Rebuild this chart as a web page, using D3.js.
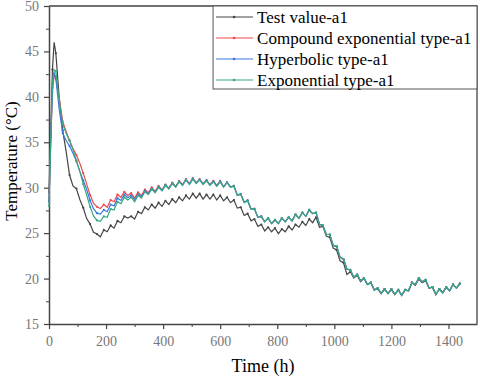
<!DOCTYPE html>
<html>
<head>
<meta charset="utf-8">
<script src="https://cdn.jsdelivr.net/npm/d3@7"></script>
<style>
  body { margin: 0; background: #fff; }
  text { font-family: "Liberation Serif", "Times New Roman", serif; }
</style>
</head>
<body>
<div id="chart"></div>
<script>
// time points (h)
var hours = [0, 6, 12, 18, 24, 36, 48, 60, 72, 84, 96, 108, 120, 132, 144, 156, 168, 180,
  192, 204, 216, 228, 240, 252, 264, 276, 288, 300, 312, 324, 336, 348, 360, 372, 384, 396,
  408, 420, 432, 444, 456, 468, 480, 492, 504, 516, 528, 540, 552, 564, 576, 588, 600, 612,
  624, 636, 648, 660, 672, 684, 696, 708, 720, 732, 744, 756, 768, 780, 792, 804, 816, 828,
  840, 852, 864, 876, 888, 900, 912, 924, 936, 948, 960, 972, 984, 996, 1008, 1020, 1032, 1044,
  1056, 1068, 1080, 1092, 1104, 1116, 1128, 1140, 1152, 1164, 1176, 1188, 1200, 1212, 1224, 1236,
  1248, 1260, 1272, 1284, 1296, 1308, 1320, 1332, 1344, 1356, 1368, 1380, 1392, 1404, 1416, 1428, 1440];

var testValue = [29.5, 36.0, 43.0, 46.0, 44.8, 39.8, 36.3, 34.0, 31.4, 30.2, 29.9, 28.7, 27.8, 26.6, 26.0, 25.1, 24.9, 24.6,
  25.35, 25.15, 25.85, 25.55, 26.35, 26.15, 26.85, 26.65, 26.85, 26.55, 27.35, 27.15, 27.85, 27.55, 28.15, 27.75, 28.35, 27.95,
  28.55, 28.15, 28.75, 28.35, 28.95, 28.55, 29.15, 28.75, 29.35, 28.85, 29.35, 28.75, 29.25, 28.75, 29.25, 28.65, 29.15, 28.55,
  28.95, 28.35, 28.65, 27.75, 27.85, 26.95, 27.15, 26.35, 26.55, 25.75, 25.95, 25.25, 25.65, 25.15, 25.55, 24.95, 25.45, 25.15,
  25.75, 25.35, 25.95, 25.65, 26.25, 25.85, 26.55, 26.15, 26.75, 25.65, 25.75, 24.65, 24.55, 23.35, 23.15, 21.95, 21.75, 20.45,
  20.75, 20.05, 20.35, 19.65, 20.05, 19.35, 19.55, 18.75, 18.85, 18.35, 18.85, 18.35, 18.75, 18.25, 18.75, 18.15,
  18.75, 18.65, 19.55, 19.25, 19.95, 19.55, 19.75, 18.95, 19.05, 18.25, 18.85, 18.45, 19.05, 18.65, 19.35, 18.95, 19.45];

var compoundExp = [28.5, 35.0, 40.5, 42.5, 42.0, 39.8, 37.3, 36.2, 35.2, 34.3, 33.6, 32.7, 31.6, 30.4, 29.2, 28.3, 27.9, 27.7,
  28.15, 27.85, 28.65, 28.45, 29.25, 28.95, 29.55, 29.15, 29.4, 28.85, 29.5, 29.15, 29.8, 29.45, 30.05, 29.6, 30.2, 29.75,
  30.35, 29.95, 30.55, 30.15, 30.75, 30.35, 30.95, 30.45, 31.05, 30.55, 30.95, 30.45, 30.85, 30.35, 30.75, 30.25, 30.75, 30.1,
  30.6, 30.1, 30.2, 29.2, 29.3, 28.4, 28.6, 27.7, 27.7, 26.75, 26.85, 26.25, 26.65, 26.05, 26.45, 26.05, 26.65, 26.25,
  26.75, 26.35, 27.05, 26.65, 27.25, 26.85, 27.55, 27.15, 27.25, 25.95, 25.85, 24.85, 24.85, 23.65, 23.55, 22.35, 22.15, 21.05,
  20.95, 20.15, 20.45, 19.75, 20.05, 19.35, 19.55, 18.75, 18.95, 18.35, 18.85, 18.35, 18.85, 18.25, 18.75, 18.15,
  18.75, 18.65, 19.55, 19.35, 20.05, 19.65, 19.85, 18.95, 19.05, 18.25, 18.85, 18.45, 19.05, 18.65, 19.35, 18.95, 19.45];

var hyperbolic = [28.5, 35.0, 41.0, 42.7, 42.0, 38.6, 36.0, 35.2, 34.6, 33.8, 32.9, 31.8, 30.8, 29.8, 28.6, 27.7, 27.2, 27.1,
  27.55, 27.35, 28.15, 28.0, 28.85, 28.6, 29.25, 28.9, 29.15, 28.65, 29.3, 29.0, 29.65, 29.35, 29.9, 29.5, 30.1, 29.7,
  30.3, 29.9, 30.5, 30.1, 30.7, 30.3, 30.9, 30.4, 31.0, 30.5, 30.9, 30.4, 30.8, 30.3, 30.7, 30.2, 30.7, 30.1,
  30.6, 30.1, 30.2, 29.2, 29.3, 28.4, 28.6, 27.65, 27.65, 26.75, 26.85, 26.25, 26.65, 26.05, 26.45, 26.05, 26.65, 26.25,
  26.75, 26.35, 27.05, 26.65, 27.25, 26.85, 27.55, 27.15, 27.25, 25.95, 25.85, 24.85, 24.85, 23.65, 23.55, 22.35, 22.15, 21.05,
  20.95, 20.15, 20.45, 19.75, 20.05, 19.35, 19.55, 18.75, 18.95, 18.35, 18.85, 18.35, 18.85, 18.25, 18.75, 18.15,
  18.75, 18.65, 19.55, 19.35, 20.05, 19.65, 19.85, 18.95, 19.05, 18.25, 18.85, 18.45, 19.05, 18.65, 19.35, 18.95, 19.45];

var exponential = [28.0, 35.0, 41.5, 43.0, 42.8, 39.5, 37.0, 36.0, 35.2, 34.2, 33.0, 31.8, 30.4, 29.2, 27.9, 26.9, 26.4, 26.3,
  26.85, 26.75, 27.65, 27.55, 28.45, 28.25, 28.95, 28.65, 28.95, 28.45, 29.15, 28.85, 29.55, 29.25, 29.85, 29.45, 30.05, 29.65,
  30.25, 29.85, 30.45, 30.05, 30.65, 30.25, 30.85, 30.35, 30.95, 30.45, 30.85, 30.35, 30.75, 30.25, 30.65, 30.15, 30.65, 30.05,
  30.55, 30.05, 30.15, 29.15, 29.25, 28.35, 28.55, 27.65, 27.65, 26.75, 26.85, 26.25, 26.65, 26.05, 26.45, 26.05, 26.65, 26.25,
  26.75, 26.35, 27.05, 26.65, 27.25, 26.85, 27.55, 27.15, 27.25, 25.95, 25.85, 24.85, 24.85, 23.65, 23.55, 22.35, 22.15, 21.05,
  20.95, 20.15, 20.45, 19.75, 20.05, 19.35, 19.55, 18.75, 18.95, 18.35, 18.85, 18.35, 18.85, 18.25, 18.75, 18.15,
  18.75, 18.65, 19.55, 19.35, 20.05, 19.65, 19.85, 18.95, 19.05, 18.25, 18.85, 18.45, 19.05, 18.65, 19.35, 18.95, 19.45];

var seriesNames = ["Test value-a1", "Compound exponential type-a1", "Hyperbolic type-a1", "Exponential type-a1"];
var seriesColors = ["#444444", "#ee4a4a", "#3a78e0", "#36a882"];
var seriesData = [testValue, compoundExp, hyperbolic, exponential];

var xTicks = [0, 200, 400, 600, 800, 1000, 1200, 1400];
var yTicks = [15, 20, 25, 30, 35, 40, 45, 50];

var serif = "Liberation Serif, Times New Roman, serif";

// set the dimensions and margins of the graph
var margin = { top: 6, right: 3, bottom: 53, left: 49 },
    width = 480 - margin.left - margin.right,
    height = 377 - margin.top - margin.bottom;

var svg = d3.select("#chart")
    .append("svg")
    .attr("width", 480)
    .attr("height", 377)
    .append("g")
    .attr("transform", "translate(" + margin.left + "," + margin.top + ")");

var x = d3.scaleLinear().domain([0, 1500]).range([0, width]);
var y = d3.scaleLinear().domain([15, 50]).range([height, 0]);

// frame (top and right)
svg.append("path")
    .attr("d", "M0,0H" + width + "V" + height)
    .attr("fill", "none")
    .attr("stroke", "#444")
    .attr("stroke-width", 1.3);

// minor ticks
svg.append("g")
    .attr("transform", "translate(0," + height + ")")
    .call(d3.axisBottom(x).tickValues(d3.range(100, 1500, 200)).tickSize(3).tickFormat(""))
    .call(function(g) { g.select(".domain").remove(); })
    .selectAll("line").attr("stroke", "#444");
svg.append("g")
    .call(d3.axisLeft(y).tickValues(d3.range(17.5, 50, 5)).tickSize(3).tickFormat(""))
    .call(function(g) { g.select(".domain").remove(); })
    .selectAll("line").attr("stroke", "#444");

// X axis
var gx = svg.append("g")
    .attr("transform", "translate(0," + height + ")")
    .call(d3.axisBottom(x).tickValues(xTicks).tickFormat(d3.format("d"))
        .tickSize(5).tickSizeOuter(0).tickPadding(7));
// Y axis
var gy = svg.append("g")
    .call(d3.axisLeft(y).tickValues(yTicks).tickFormat(d3.format("d"))
        .tickSize(5).tickSizeOuter(0).tickPadding(5));

[gx, gy].forEach(function(g) {
    g.attr("font-family", serif).attr("font-size", 14);
    g.select(".domain").attr("stroke", "#444").attr("stroke-width", 1.5);
    g.selectAll(".tick line").attr("stroke", "#444").attr("stroke-width", 1.2);
    g.selectAll(".tick text")
        .attr("fill", "#777")
        .style("font-family", serif)
        .style("font-size", "14px");
});

// the lines
var line = d3.line()
    .x(function(d, i) { return x(hours[i]); })
    .y(function(d) { return y(d); });

seriesData.forEach(function(vals, k) {
    svg.append("path")
        .datum(vals)
        .attr("fill", "none")
        .attr("stroke", seriesColors[k])
        .attr("stroke-width", 1.2)
        .attr("d", line);
    svg.append("g")
        .selectAll("circle")
        .data(vals.filter(function(d, i) { return i % 2 === 0; }))
        .enter().append("circle")
        .attr("cx", function(d, i) { return x(hours[i * 2]); })
        .attr("cy", function(d) { return y(d); })
        .attr("r", 1.1)
        .attr("fill", seriesColors[k]);
});

// axis titles
svg.append("text")
    .attr("x", width / 2)
    .attr("y", height + 48)
    .attr("text-anchor", "middle")
    .style("font-size", "18px")
    .text("Time (h)");
svg.append("text")
    .attr("transform", "translate(" + (-32) + "," + (height / 2 - 4) + ") rotate(-90)")
    .attr("text-anchor", "middle")
    .style("font-size", "17px")
    .text("Temperature (\u00B0C)");

// legend
var legend = svg.append("g").attr("transform", "translate(" + (x(575)) + ",0)");
legend.append("rect")
    .attr("x", 0).attr("y", 0)
    .attr("width", width - x(575)).attr("height", 83)
    .attr("fill", "#fff")
    .attr("stroke", "#555")
    .attr("stroke-width", 1);
seriesNames.forEach(function(name, k) {
    var row = legend.append("g").attr("transform", "translate(0," + (11 + k * 21) + ")");
    row.append("line")
        .attr("x1", 3).attr("x2", 40)
        .attr("stroke", seriesColors[k]).attr("stroke-width", 1.2);
    row.append("circle").attr("cx", 21).attr("r", 1.3).attr("fill", seriesColors[k]);
    row.append("text")
        .attr("x", 44).attr("y", 5.5)
        .style("font-size", "17px")
        .text(name);
});
</script>
</body>
</html>
